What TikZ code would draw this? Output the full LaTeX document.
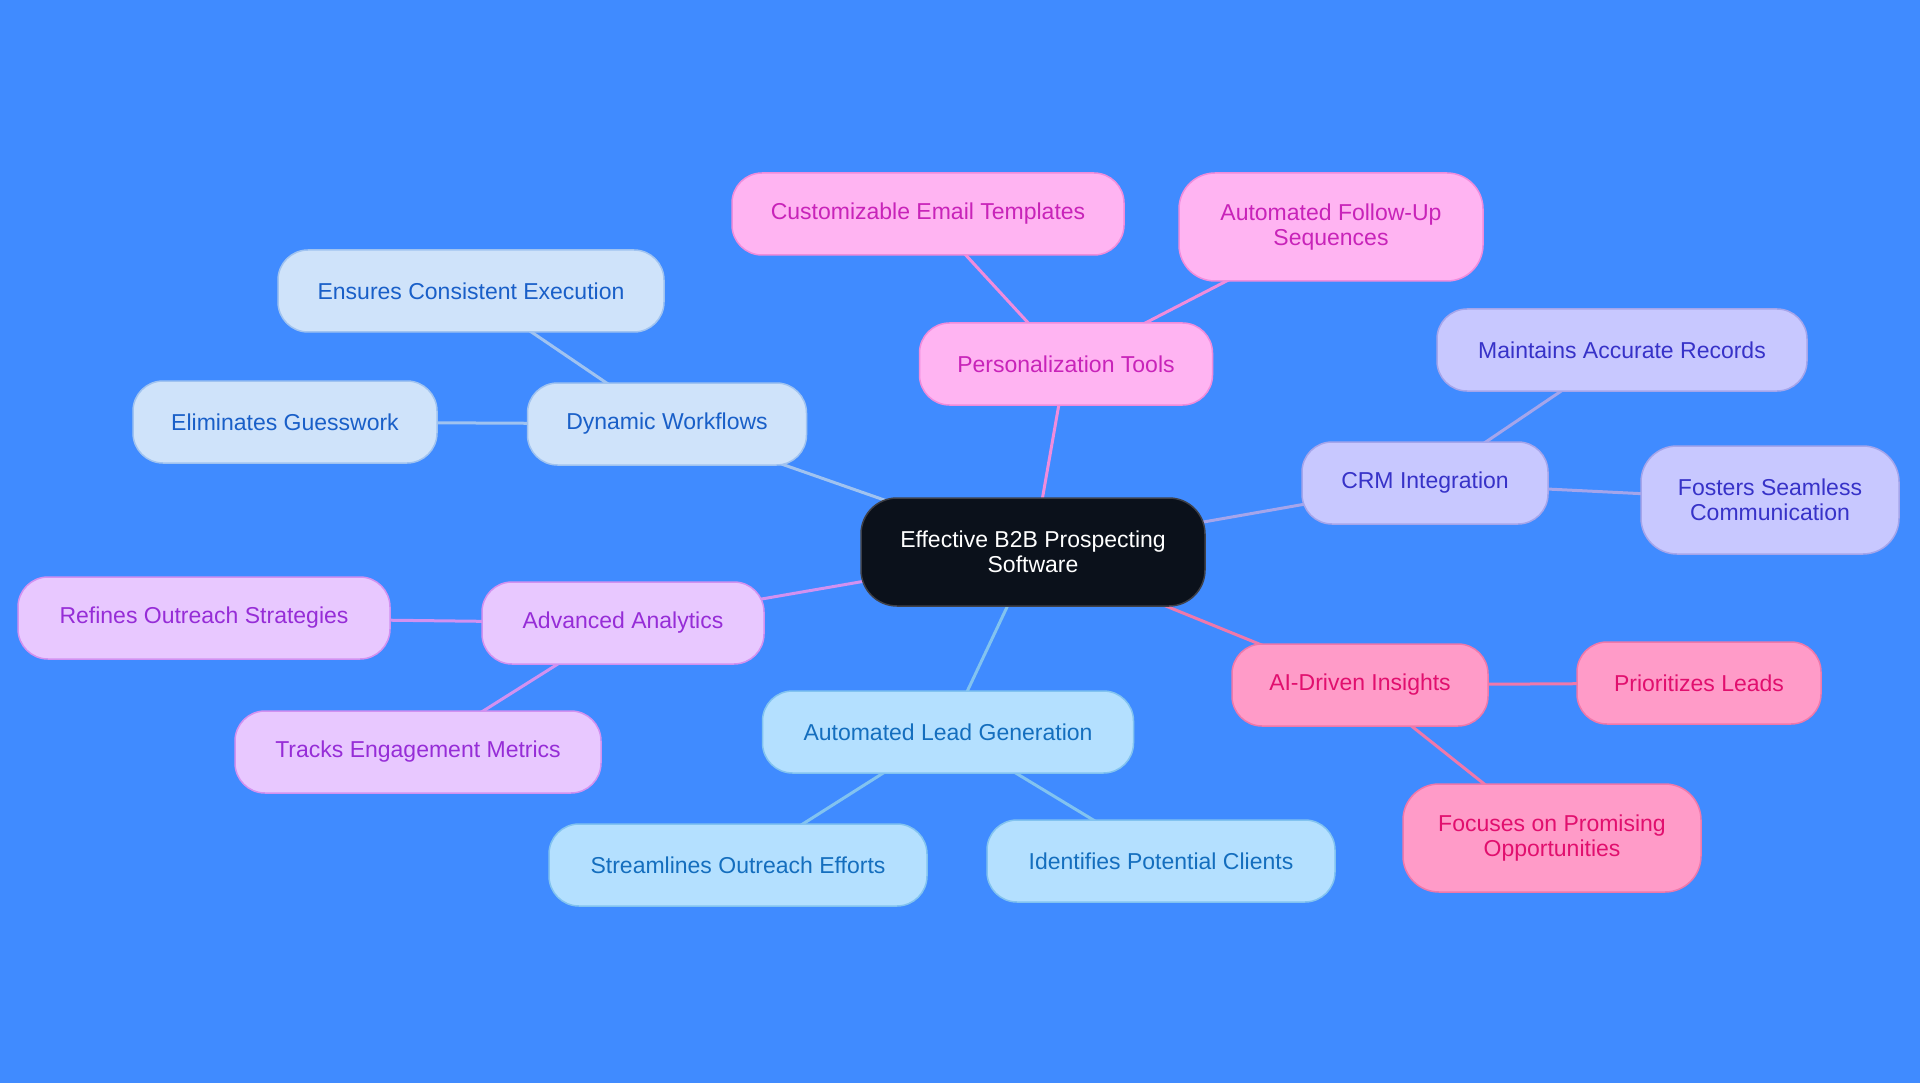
\documentclass[tikz,border=0pt]{standalone}
\usepackage{fontspec}
\setmainfont{Liberation Sans}
\usetikzlibrary{backgrounds}
\definecolor{bgc}{RGB}{64,139,255}
\definecolor{cfill}{RGB}{11,17,27}
\definecolor{cdraw}{RGB}{62,64,72}
\definecolor{dwfill}{RGB}{207,227,250}
\definecolor{dwdraw}{RGB}{160,195,240}
\definecolor{dwtext}{RGB}{25,95,200}
\definecolor{lgfill}{RGB}{180,224,255}
\definecolor{lgdraw}{RGB}{130,195,240}
\definecolor{lgtext}{RGB}{20,110,190}
\definecolor{ptfill}{RGB}{255,180,242}
\definecolor{ptdraw}{RGB}{240,140,220}
\definecolor{pttext}{RGB}{200,35,185}
\definecolor{crfill}{RGB}{200,200,255}
\definecolor{crdraw}{RGB}{165,165,235}
\definecolor{crtext}{RGB}{55,50,200}
\definecolor{aifill}{RGB}{255,155,200}
\definecolor{aidraw}{RGB}{240,120,170}
\definecolor{aitext}{RGB}{225,15,110}
\definecolor{anfill}{RGB}{232,200,255}
\definecolor{andraw}{RGB}{210,145,240}
\definecolor{antext}{RGB}{150,45,215}
\tikzset{
  box/.style={rounded corners=30pt, line width=1.5pt, inner sep=0pt, align=center,
    minimum height=82pt, font=\fontsize{23}{25}\selectfont},
  tall/.style={minimum height=108pt, rounded corners=36pt},
  rootbox/.style={box, tall, fill=cfill, draw=cdraw, text=white},
  dwbox/.style={box, fill=dwfill, draw=dwdraw, text=dwtext},
  lgbox/.style={box, fill=lgfill, draw=lgdraw, text=lgtext},
  ptbox/.style={box, fill=ptfill, draw=ptdraw, text=pttext},
  crbox/.style={box, fill=crfill, draw=crdraw, text=crtext},
  aibox/.style={box, fill=aifill, draw=aidraw, text=aitext},
  anbox/.style={box, fill=anfill, draw=andraw, text=antext},
  link/.style={line width=3pt},
}
\begin{document}
\begin{tikzpicture}[x=1pt,y=-1pt]
\useasboundingbox (0,0) rectangle (1920,1083);

\node[rootbox, minimum width=344pt] (root) at (1033,552) {Effective B2B Prospecting\\Software};

\node[dwbox, minimum width=279pt] (dw) at (667,424) {Dynamic Workflows};
\node[dwbox, minimum width=386pt] (dw1) at (471,291) {Ensures Consistent Execution};
\node[dwbox, minimum width=304pt] (dw2) at (285,422) {Eliminates Guesswork};

\node[ptbox, minimum width=293pt] (pt) at (1066,364) {Personalization Tools};
\node[ptbox, minimum width=392pt] (pt1) at (928,214) {Customizable Email Templates};
\node[ptbox, tall, minimum width=304pt] (pt2) at (1331,227) {Automated Follow-Up\\Sequences};

\node[crbox, minimum width=246pt] (cr) at (1425,483) {CRM Integration};
\node[crbox, minimum width=370pt] (cr1) at (1622,350) {Maintains Accurate Records};
\node[crbox, tall, minimum width=258pt] (cr2) at (1770,500) {Fosters Seamless\\Communication};

\node[aibox, minimum width=256pt] (ai) at (1360,685) {AI-Driven Insights};
\node[aibox, minimum width=244pt] (ai1) at (1699,683) {Prioritizes Leads};
\node[aibox, tall, minimum width=298pt] (ai2) at (1552,838) {Focuses on Promising\\Opportunities};

\node[lgbox, minimum width=371pt] (lg) at (948,732) {Automated Lead Generation};
\node[lgbox, minimum width=378pt] (lg1) at (738,865) {Streamlines Outreach Efforts};
\node[lgbox, minimum width=348pt] (lg2) at (1161,861) {Identifies Potential Clients};

\node[anbox, minimum width=282pt] (an) at (623,623) {Advanced Analytics};
\node[anbox, minimum width=372pt] (an1) at (204,618) {Refines Outreach Strategies};
\node[anbox, minimum width=366pt] (an2) at (418,752) {Tracks Engagement Metrics};

\begin{scope}[on background layer]
\fill[bgc] (0,0) rectangle (1920,1083);
\draw[link, dwdraw] (root.center) -- (dw.center);
\draw[link, dwdraw] (dw.center) -- (dw1.center);
\draw[link, dwdraw] (dw.center) -- (dw2.center);
\draw[link, ptdraw] (root.center) -- (pt.center);
\draw[link, ptdraw] (pt.center) -- (pt1.center);
\draw[link, ptdraw] (pt.center) -- (pt2.center);
\draw[link, crdraw] (root.center) -- (cr.center);
\draw[link, crdraw] (cr.center) -- (cr1.center);
\draw[link, crdraw] (cr.center) -- (cr2.center);
\draw[link, aidraw] (root.center) -- (ai.center);
\draw[link, aidraw] (ai.center) -- (ai1.center);
\draw[link, aidraw] (ai.center) -- (ai2.center);
\draw[link, lgdraw] (root.center) -- (lg.center);
\draw[link, lgdraw] (lg.center) -- (lg1.center);
\draw[link, lgdraw] (lg.center) -- (lg2.center);
\draw[link, andraw] (root.center) -- (an.center);
\draw[link, andraw] (an.center) -- (an1.center);
\draw[link, andraw] (an.center) -- (an2.center);
\end{scope}
\end{tikzpicture}
\end{document}
